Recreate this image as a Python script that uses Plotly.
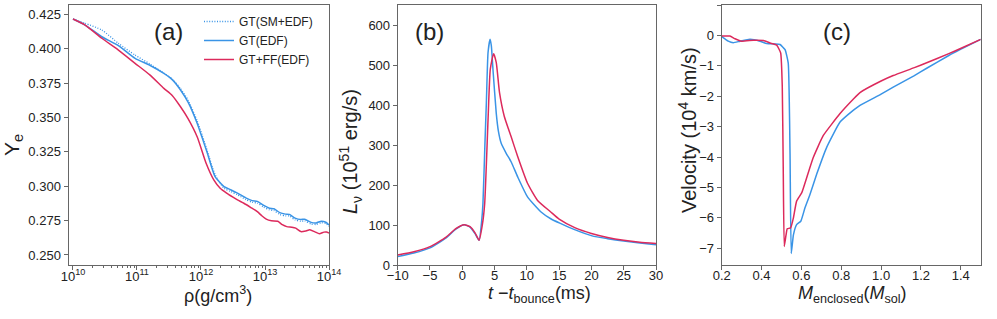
import plotly.graph_objects as go

# ---------------- data ----------------
# Panel (a): Ye vs density (log10 rho)
a_logrho_sm = [10.0, 10.19, 10.45, 10.71, 10.97, 11.2, 11.42, 11.55, 11.68, 11.8, 11.94, 12.02, 12.1, 12.22, 12.36,
               12.46, 12.57, 12.70, 12.80, 12.88, 12.98, 13.07, 13.14, 13.23, 13.32, 13.38, 13.47, 13.56, 13.62,
               13.72, 13.80, 13.88, 13.95, 14.0]
a_ye_sm = [0.4216, 0.4185, 0.4136, 0.4039, 0.3954, 0.3890, 0.3822, 0.3780, 0.3710, 0.3625, 0.3475, 0.3370, 0.3255,
           0.3085, 0.2985, 0.2962, 0.2938, 0.2903, 0.2883, 0.2877, 0.2848, 0.2828, 0.2823, 0.2795, 0.2785, 0.2783,
           0.2755, 0.2745, 0.2748, 0.2725, 0.2722, 0.2735, 0.2728, 0.2708]

a_logrho_gt = [10.0, 10.19, 10.45, 10.71, 10.97, 11.2, 11.42, 11.55, 11.68, 11.8, 11.94, 12.02, 12.1, 12.22, 12.36,
               12.46, 12.57, 12.70, 12.80, 12.88, 12.98, 13.07, 13.14, 13.23, 13.32, 13.38, 13.47, 13.56, 13.62,
               13.72, 13.80, 13.88, 13.95, 14.0]
a_ye_gt = [0.4216, 0.4172, 0.4087, 0.4022, 0.3930, 0.3880, 0.3820, 0.3775, 0.3700, 0.3610, 0.3458, 0.3350, 0.3240,
           0.3070, 0.2997, 0.2975, 0.2950, 0.2915, 0.2895, 0.2890, 0.2860, 0.2840, 0.2836, 0.2808, 0.2797, 0.2795,
           0.2768, 0.2758, 0.2760, 0.2737, 0.2733, 0.2746, 0.2738, 0.2718]

a_logrho_ff = [10.0, 10.19, 10.45, 10.71, 10.97, 11.2, 11.42, 11.55, 11.68, 11.8, 11.94, 12.08, 12.20, 12.30, 12.40,
               12.50, 12.57, 12.67, 12.78, 12.88, 12.95, 13.02, 13.10, 13.20, 13.27, 13.34, 13.42, 13.48, 13.56,
               13.64, 13.70, 13.78, 13.85, 13.92, 13.96, 14.0]
a_ye_ff = [0.4216, 0.4172, 0.4076, 0.3990, 0.3894, 0.3810, 0.3712, 0.3660, 0.3578, 0.3490, 0.3360, 0.3167, 0.3046,
           0.2985, 0.2950, 0.2920, 0.2900, 0.2876, 0.2845, 0.2815, 0.2785, 0.2760, 0.2748, 0.2745, 0.2720, 0.2706,
           0.2702, 0.2695, 0.2670, 0.2675, 0.2683, 0.2668, 0.2654, 0.2666, 0.2667, 0.2659]

# Panel (b): luminosity vs time after bounce
b_t_gt = [-10, -7.5, -5, -2.5, -1, 0.3, 1.2, 2.0, 2.6, 3.0, 3.2, 3.5, 3.73, 3.99, 4.3, 4.5, 4.75, 5.26, 5.6, 6.03,
          6.8, 7.56, 8.58, 10.1, 12.2, 13.7, 15.1, 17.5, 20.1, 22.5, 25, 27.5, 30]
b_L_gt = [21, 30, 43, 68, 90, 101, 95, 78, 62, 110, 154, 300, 407, 533, 566, 550, 491, 381, 335, 305,
          280, 259, 221, 171, 133, 116, 105, 88, 73, 66, 60, 55, 51]

b_t_ff = [-10, -7.5, -5, -2.5, -1, 0.3, 1.2, 2.0, 2.6, 3.1, 3.47, 3.99, 4.34, 4.85, 5.26, 5.77, 6.5, 7.56, 8.58,
          10.1, 11.66, 13.7, 15, 17.5, 20, 22.5, 25, 27.5, 30]
b_L_ff = [25, 33, 46, 70, 91, 101, 96, 80, 62, 100, 154, 364, 491, 530, 508, 432, 373, 322, 272,
          205, 162, 133, 115, 93, 79, 69, 62, 57, 54]

# Panel (c): velocity vs enclosed mass
c_m_gt = [0.2, 0.233, 0.258, 0.292, 0.342, 0.392, 0.426, 0.467, 0.493, 0.518, 0.534, 0.543, 0.549, 0.56, 0.576,
          0.597, 0.618, 0.643, 0.677, 0.727, 0.794, 0.863, 0.894, 1.0, 1.061, 1.167, 1.229, 1.34, 1.396, 1.5]
c_v_gt = [-0.04, -0.19, -0.24, -0.19, -0.13, -0.19, -0.27, -0.28, -0.30, -0.47, -0.91, -3.9, -7.17, -6.56, -6.22,
          -6.11, -5.67, -5.23, -4.56, -3.68, -2.85, -2.45, -2.30, -1.93, -1.70, -1.32, -1.08, -0.66, -0.47, -0.13]

c_m_ff = [0.2, 0.241, 0.267, 0.30, 0.359, 0.41, 0.443, 0.476, 0.496, 0.504, 0.509, 0.514, 0.523, 0.529, 0.546,
          0.56, 0.576, 0.602, 0.627, 0.66, 0.71, 0.794, 0.86, 0.894, 1.0, 1.061, 1.167, 1.229, 1.34, 1.396, 1.5]
c_v_ff = [-0.02, -0.02, -0.11, -0.19, -0.16, -0.17, -0.25, -0.32, -0.58, -1.68, -4.45, -6.94, -6.56, -6.36, -6.33,
          -6.0, -5.45, -5.17, -4.67, -4.01, -3.29, -2.57, -2.10, -1.88, -1.50, -1.32, -1.06, -0.90, -0.60, -0.44, -0.13]

legend_names = ["GT(SM+EDF)", "GT(EDF)", "GT+FF(EDF)"]
a_tickvals = [1e10, 1e11, 1e12, 1e13, 1e14]
a_ticktext = ["10<sup>10</sup>", "10<sup>11</sup>", "10<sup>12</sup>", "10<sup>13</sup>", "10<sup>14</sup>"]
panel_labels = ["(a)", "(b)", "(c)"]
x_titles = ["ρ(g/cm<sup>3</sup>)", "<i>t</i> −<i>t</i><sub>bounce</sub>(ms)",
            "<i>M</i><sub>enclosed</sub>(<i>M</i><sub>sol</sub>)"]
y_titles = ["Y<sub>e</sub>", "<i>L</i><sub>ν</sub>\u00a0(10<sup>51</sup>\u00a0erg/s)", "Velocity (10<sup>4</sup> km/s)"]

BLUE = "#3a94e6"
RED = "#dc2a5c"
FRAME = "#666666"
TXT = "#222222"
FONT = "Liberation Sans, Arial, sans-serif"

FW, FH = 997, 319

def px(sx):
    return sx / FW

def py(sy):
    return 1 - sy / FH

fig = go.Figure()

def rho(vals):
    return [10 ** v for v in vals]

fig.add_trace(go.Scatter(x=rho(a_logrho_sm), y=a_ye_sm, mode="lines", name=legend_names[0],
                         line=dict(color=BLUE, width=1.3, dash="1px,1.6px", shape="spline", smoothing=0.6),
                         xaxis="x", yaxis="y"))
fig.add_trace(go.Scatter(x=rho(a_logrho_gt), y=a_ye_gt, mode="lines", name=legend_names[1],
                         line=dict(color=BLUE, width=1.5, shape="spline", smoothing=0.6),
                         xaxis="x", yaxis="y"))
fig.add_trace(go.Scatter(x=rho(a_logrho_ff), y=a_ye_ff, mode="lines", name=legend_names[2],
                         line=dict(color=RED, width=1.5, shape="spline", smoothing=0.6),
                         xaxis="x", yaxis="y"))

fig.add_trace(go.Scatter(x=b_t_gt, y=b_L_gt, mode="lines", showlegend=False,
                         line=dict(color=BLUE, width=1.5, shape="spline", smoothing=0.5),
                         xaxis="x2", yaxis="y2"))
fig.add_trace(go.Scatter(x=b_t_ff, y=b_L_ff, mode="lines", showlegend=False,
                         line=dict(color=RED, width=1.5, shape="spline", smoothing=0.5),
                         xaxis="x2", yaxis="y2"))

fig.add_trace(go.Scatter(x=c_m_gt, y=c_v_gt, mode="lines", showlegend=False,
                         line=dict(color=BLUE, width=1.5, shape="spline", smoothing=0.4),
                         xaxis="x3", yaxis="y3"))
fig.add_trace(go.Scatter(x=c_m_ff, y=c_v_ff, mode="lines", showlegend=False,
                         line=dict(color=RED, width=1.5, shape="spline", smoothing=0.4),
                         xaxis="x3", yaxis="y3"))

ydom = [py(265), py(5)]

def axis_common():
    return dict(showline=True, linecolor=FRAME, linewidth=1, mirror=True, ticks="outside",
                ticklen=4, tickcolor=FRAME, showgrid=False, zeroline=False, automargin=False,
                tickfont=dict(size=13, color=TXT, family=FONT))

xa = axis_common()
xa.update(type="log", domain=[px(68.5), px(329)], range=[9.93, 14.0], tickvals=a_tickvals, ticktext=a_ticktext,
          anchor="y", ticklabelstandoff=-5,
          minor=dict(ticks="outside", ticklen=2, tickcolor=FRAME,
                     tickvals=[m * 10 ** e for e in range(10, 14) for m in range(2, 10)]))
ya = axis_common()
ya.update(domain=ydom, range=[0.2427, 0.4318], dtick=0.025, tick0=0.25, tickformat=".3f", anchor="x")

xb = axis_common()
xb.update(domain=[px(397.7), px(656)], range=[-10, 30], dtick=5, tick0=0, anchor="y2", ticklabelstandoff=-6)
yb = axis_common()
yb.update(domain=ydom, range=[0, 652], dtick=100, tick0=0, anchor="x2")

xc = axis_common()
xc.update(domain=[px(721.7), px(980.7)], range=[0.2, 1.5], dtick=0.2, tick0=0.2, tickformat=".1f", anchor="y3",
          ticklabelstandoff=-6)
yc = axis_common()
yc.update(domain=ydom, range=[-7.55, 1.0], dtick=1, tick0=0, anchor="x3")

annos = []
for lab, sx in zip(panel_labels, [168, 429, 837]):
    annos.append(dict(text=lab, xref="paper", yref="paper", x=px(sx), y=py(32),
                      xanchor="center", yanchor="middle", showarrow=False,
                      font=dict(size=24, color=TXT, family=FONT)))
for t, sx in zip(x_titles, [218, 539, 852]):
    annos.append(dict(text=t, xref="paper", yref="paper", x=px(sx), y=py(294),
                      xanchor="center", yanchor="middle", showarrow=False,
                      font=dict(size=18, color=TXT, family=FONT)))
for t, sx, sy, fs in zip(y_titles, [13, 350, 687], [145, 152, 130], [21, 20, 20]):
    annos.append(dict(text=t, xref="paper", yref="paper", x=px(sx), y=py(sy), textangle=-90,
                      xanchor="center", yanchor="middle", showarrow=False,
                      font=dict(size=fs, color=TXT, family=FONT)))

fig.update_layout(
    width=FW, height=FH, margin=dict(l=0, r=0, t=0, b=0),
    paper_bgcolor="white", plot_bgcolor="white",
    font=dict(family=FONT, color=TXT),
    xaxis=xa, yaxis=ya, xaxis2=xb, yaxis2=yb, xaxis3=xc, yaxis3=yc,
    annotations=annos,
    legend=dict(x=px(199), y=py(7), xanchor="left", yanchor="top", bgcolor="rgba(0,0,0,0)",
                font=dict(size=12, color=TXT, family=FONT), tracegroupgap=0, itemwidth=30),
)

fig.write_html("out.html", config={"displayModeBar": False},
               post_script="document.body.style.margin='0';document.body.style.overflow='hidden';")
